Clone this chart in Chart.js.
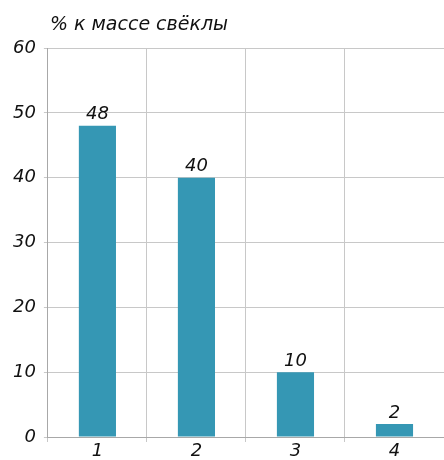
<!DOCTYPE html>
<html>
<head>
<meta charset="utf-8">
<script src="https://cdn.jsdelivr.net/npm/chart.js@4"></script>
<style>
  html, body { margin: 0; padding: 0; background: #fff; }
  #wrap { width: 444px; height: 460px; position: relative; }
</style>
</head>
<body>
<div id="wrap"><canvas id="c" width="444" height="460"></canvas></div>
<script>
// Доля фракций, % к массе свёклы
const categories = ['1', '2', '3', '4'];
const values = [48, 40, 10, 2];
const yTicks = [0, 10, 20, 30, 40, 50, 60];
const axisTitle = '% к массе свёклы';

const FONT = '"DejaVu Sans", sans-serif';

const valueLabels = {
  id: 'valueLabels',
  afterDatasetsDraw(chart) {
    const ctx = chart.ctx;
    const meta = chart.getDatasetMeta(0);
    ctx.save();
    ctx.font = 'italic 18px ' + FONT;
    ctx.fillStyle = '#111';
    ctx.textAlign = 'center';
    ctx.textBaseline = 'bottom';
    meta.data.forEach((bar, i) => {
      ctx.fillText(String(values[i]), bar.x, bar.y - 2);
    });
    ctx.restore();
  }
};

const unitTitle = {
  id: 'unitTitle',
  afterDraw(chart) {
    const ctx = chart.ctx;
    ctx.save();
    ctx.font = 'italic 19px ' + FONT;
    ctx.fillStyle = '#111';
    ctx.textAlign = 'left';
    ctx.textBaseline = 'middle';
    ctx.fillText(axisTitle, chart.chartArea.left + 2, 25);
    ctx.restore();
  }
};

new Chart(document.getElementById('c'), {
  type: 'bar',
  data: {
    labels: categories,
    datasets: [{
      data: values,
      backgroundColor: '#3597b4',
      borderWidth: 0,
      categoryPercentage: 0.375,
      barPercentage: 1
    }]
  },
  options: {
    responsive: false,
    animation: false,
    layout: { padding: { top: 48, right: 0, bottom: 0, left: 5 } },
    plugins: { legend: { display: false }, tooltip: { enabled: false } },
    scales: {
      x: {
        offset: true,
        grid: { offset: true, color: '#c8c8c8', lineWidth: 1, tickLength: 5, drawTicks: true },
        border: { color: '#a8a8a8' },
        ticks: { color: '#111', font: { family: FONT, size: 18, style: 'italic', lineHeight: 1 }, padding: 0 }
      },
      y: {
        min: 0, max: 60,
        afterBuildTicks(axis) { axis.ticks = yTicks.map(v => ({ value: v })); },
        grid: { color: '#c8c8c8', lineWidth: 1, tickLength: 4 },
        border: { color: '#a8a8a8' },
        ticks: { color: '#111', font: { family: FONT, size: 18, style: 'italic' }, padding: 8 }
      }
    }
  },
  plugins: [valueLabels, unitTitle]
});
</script>
</body>
</html>
